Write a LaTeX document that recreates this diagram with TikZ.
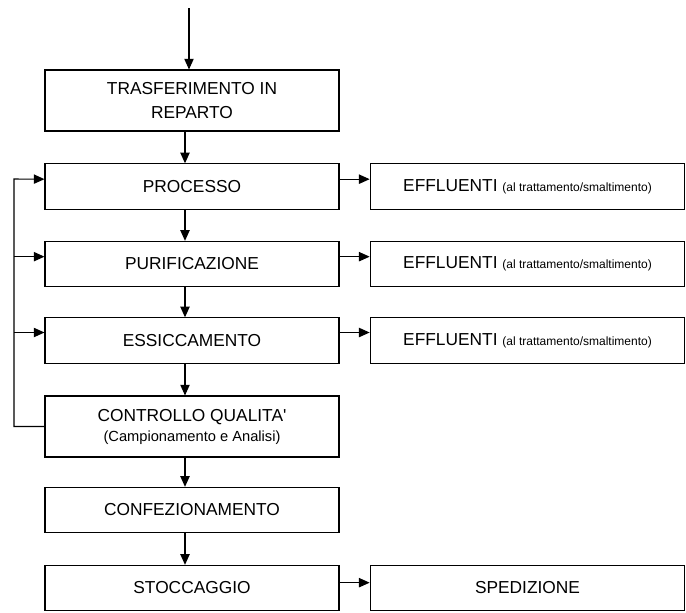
\documentclass[tikz,border=0pt]{standalone}
\usepackage{fontspec}
\setmainfont{Liberation Sans}
\usetikzlibrary{arrows.meta}

\tikzset{
  stepbox/.style={draw, line width=0.8pt, rectangle, minimum width=220.5pt, align=center,
    font=\fontsize{13}{18}\selectfont, inner sep=0pt},
  effbox/.style={draw, line width=0.8pt, rectangle, minimum width=236pt, minimum height=34pt,
    align=center, font=\fontsize{13}{18}\selectfont, inner sep=0pt},
  arr/.style={line width=0.8pt, -{Triangle[length=8pt,width=7pt]}},
  small/.style={font=\fontsize{8.5}{10}\selectfont}
}

\begin{document}
\begin{tikzpicture}[x=0.75pt,y=-0.75pt]
\useasboundingbox (0,0) rectangle (686,612);

% main column
\node[stepbox, minimum height=45.75pt] (trasf) at (192,100.5) {TRASFERIMENTO IN\\REPARTO};
\node[stepbox, minimum height=34pt] (proc) at (192,186.5) {PROCESSO};
\node[stepbox, minimum height=34pt] (puri) at (192,264) {PURIFICAZIONE};
\node[stepbox, minimum height=34pt] (ess) at (192,340.5) {ESSICCAMENTO};
\node[stepbox, minimum height=45.75pt] (ctrl) at (192,426.5)
  {CONTROLLO QUALITA\textquotesingle\\[-3pt]{\fontsize{11}{13}\selectfont(Campionamento e Analisi)}};
\node[stepbox, minimum height=34pt] (conf) at (192,510) {CONFEZIONAMENTO};
\node[stepbox, minimum height=34pt] (stoc) at (192,588) {STOCCAGGIO};

% side boxes
\node[effbox] (eff1) at (527.5,186.5) {EFFLUENTI {\small(al trattamento/smaltimento)}};
\node[effbox] (eff2) at (527.5,264) {EFFLUENTI {\small(al trattamento/smaltimento)}};
\node[effbox] (eff3) at (527.5,340.5) {EFFLUENTI {\small(al trattamento/smaltimento)}};
\node[effbox] (sped) at (527.5,588) {SPEDIZIONE};

% entry points
\coordinate (start) at (189,8);
\coordinate (col) at (185,0);
\coordinate (fb) at (14,179);
\coordinate (pIn) at ([yshift=5.5pt]proc.west);
\coordinate (uIn) at ([yshift=5.5pt]puri.west);
\coordinate (eIn) at ([yshift=6pt]ess.west);

% flow down
\draw[arr] (start) -- (start |- trasf.north);
\draw[arr] (trasf.south -| col) -- (proc.north -| col);
\draw[arr] (proc.south -| col) -- (puri.north -| col);
\draw[arr] (puri.south -| col) -- (ess.north -| col);
\draw[arr] (ess.south -| col) -- (ctrl.north -| col);
\draw[arr] (ctrl.south -| col) -- (conf.north -| col);
\draw[arr] (conf.south -| col) -- (stoc.north -| col);

% effluents and shipping
\draw[arr] ([yshift=5.5pt]proc.east) -- ([yshift=5.5pt]proc.east -| eff1.west);
\draw[arr] ([yshift=5.5pt]puri.east) -- ([yshift=5.5pt]puri.east -| eff2.west);
\draw[arr] ([yshift=6pt]ess.east) -- ([yshift=6pt]ess.east -| eff3.west);
\draw[arr] ([yshift=4pt]stoc.east) -- ([yshift=4pt]stoc.east -| sped.west);

% feedback loop
\draw[arr] (ctrl.west) -| (fb) -- (pIn);
\draw[arr] (fb |- uIn) -- (uIn);
\draw[arr] (fb |- eIn) -- (eIn);
\end{tikzpicture}
\end{document}
